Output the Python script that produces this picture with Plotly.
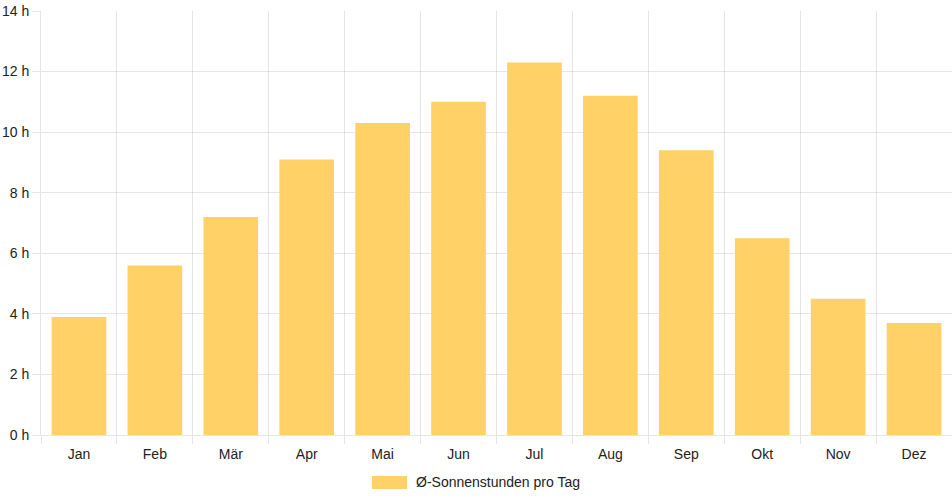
import plotly.graph_objects as go

months = ["Jan", "Feb", "Mär", "Apr", "Mai", "Jun", "Jul", "Aug", "Sep", "Okt", "Nov", "Dez"]
sun_hours = [3.9, 5.6, 7.2, 9.1, 10.3, 11.0, 12.3, 11.2, 9.4, 6.5, 4.5, 3.7]
y_ticks = [0, 2, 4, 6, 8, 10, 12, 14]
series_name = "Ø-Sonnenstunden pro Tag"

grid = "rgba(0,0,0,0.1)"
bar_color = "#FFD166"
text_color = "#222"

fig = go.Figure(
    go.Bar(
        x=months,
        y=sun_hours,
        name=series_name,
        marker=dict(color=bar_color, line=dict(width=0)),
        showlegend=False,
    )
)

# chart.js style legend: wide colour box + label below the plot
fig.add_shape(
    type="rect", xref="paper", yref="paper",
    x0=0.3633, x1=0.4018, y0=-0.0967, y1=-0.1274,
    fillcolor=bar_color, line=dict(width=0),
)
fig.add_annotation(
    xref="paper", yref="paper", x=0.4095, y=-0.112,
    xanchor="left", yanchor="middle", showarrow=False,
    text=series_name, font=dict(size=14, color=text_color),
)

fig.update_layout(
    width=952,
    height=500,
    margin=dict(l=41, r=0, t=11, b=65),
    paper_bgcolor="white",
    plot_bgcolor="white",
    bargap=0.28,
    font=dict(family="Liberation Sans, Arial, sans-serif", size=14, color=text_color),
)

fig.update_xaxes(
    type="category",
    tickson="boundaries",
    showgrid=True,
    gridcolor=grid,
    ticks="outside",
    ticklen=8,
    tickcolor=grid,
    ticklabelstandoff=6,
    showline=True,
    linecolor=grid,
    automargin=False,
)
fig.update_yaxes(
    range=[0, 14],
    tickvals=y_ticks,
    ticktext=[f"{v} h" for v in y_ticks],
    showgrid=True,
    gridcolor=grid,
    ticks="outside",
    ticklen=8,
    tickcolor=grid,
    showline=True,
    linecolor=grid,
    zeroline=False,
    automargin=False,
)

# page body has a default 8px margin; drop it so the figure fills the window
fig.write_html(
    "out.html",
    config={"displayModeBar": False},
    post_script="document.body.style.margin='0';",
)
